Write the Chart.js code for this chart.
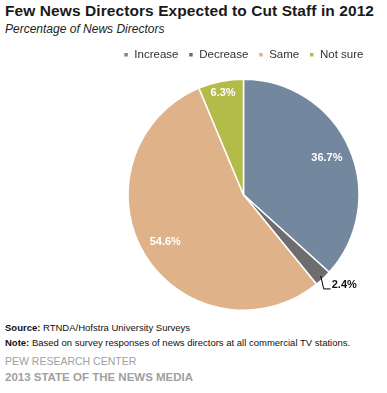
<!DOCTYPE html>
<html><head><meta charset="utf-8">
<script src="https://cdn.jsdelivr.net/npm/chart.js@4/dist/chart.umd.min.js"></script>
<style>
html,body{margin:0;padding:0;background:#fff;width:387px;height:393px;overflow:hidden;font-family:"Liberation Sans",Arial,sans-serif;}
#t{position:absolute;left:5px;top:2px;font-size:15.5px;font-weight:bold;color:#1a1a1a;letter-spacing:0.08px;white-space:nowrap;}
#s{position:absolute;left:5px;top:22px;font-size:12px;font-style:italic;color:#222;white-space:nowrap;}
#c{position:absolute;left:0;top:39px;width:387px;height:275px;}
.f{position:absolute;left:5px;font-size:9.5px;color:#111;white-space:nowrap;}
#p1{position:absolute;left:5px;top:355px;font-size:10.5px;color:#a0a0a0;white-space:nowrap;}
#p2{position:absolute;left:5px;top:371px;font-size:11.5px;font-weight:bold;color:#a0a0a0;white-space:nowrap;}
</style></head><body>
<div id="t">Few News Directors Expected to Cut Staff in 2012</div>
<div id="s">Percentage of News Directors</div>
<div id="c"><canvas id="cv" width="387" height="275"></canvas></div>
<div class="f" style="top:322px"><b>Source:</b> RTNDA/Hofstra University Surveys</div>
<div class="f" style="top:337px"><b>Note:</b> Based on survey responses of news directors at all commercial TV stations.</div>
<div id="p1">PEW RESEARCH CENTER</div>
<div id="p2">2013 STATE OF THE NEWS MEDIA</div>
<script>
const categories = ["Increase", "Decrease", "Same", "Not sure"];
const values = [36.7, 2.4, 54.6, 6.3];
const colors = ["#73889f", "#6d6d6d", "#dfb28a", "#b3bc48"];

const legendGap = {
  id: 'legendGap',
  beforeLayout(chart) {
    const lg = chart.legend;
    if (lg && !lg._gapPatched) {
      lg._gapPatched = true;
      const origFit = lg.fit;
      lg.fit = function () { origFit.call(this); this.height += 8; };
    }
  }
};

const labelPlugin = {
  id: 'sliceLabels',
  afterDatasetsDraw(chart) {
    const ctx = chart.ctx;
    const meta = chart.getDatasetMeta(0);
    ctx.save();
    ctx.font = 'bold 11px "Liberation Sans", Arial, sans-serif';
    meta.data.forEach((arc, i) => {
      const p = arc.getProps(['x','y','startAngle','endAngle','outerRadius'], true);
      const mid = (p.startAngle + p.endAngle) / 2;
      const txt = values[i].toFixed(1) + '%';
      if (values[i] < 4) {
        const sx = p.x + Math.cos(mid) * p.outerRadius * 0.97;
        const sy = p.y + Math.sin(mid) * p.outerRadius * 0.97;
        const ex = sx + 3, ey = sy + 13;
        ctx.strokeStyle = '#000';
        ctx.lineWidth = 1;
        ctx.beginPath();
        ctx.moveTo(sx, sy); ctx.lineTo(ex, ey); ctx.lineTo(ex + 7, ey);
        ctx.stroke();
        ctx.fillStyle = '#111';
        ctx.textAlign = 'left'; ctx.textBaseline = 'middle';
        ctx.fillText(txt, ex + 8, ey - 4);
      } else {
        const f = values[i] < 10 ? 0.9 : 0.79;
        const x = p.x + Math.cos(mid) * p.outerRadius * f;
        const y = p.y + Math.sin(mid) * p.outerRadius * f;
        ctx.fillStyle = '#fff';
        ctx.textAlign = 'center'; ctx.textBaseline = 'middle';
        ctx.fillText(txt, x, y);
      }
    });
    ctx.restore();
  }
};

new Chart(document.getElementById('cv'), {
  type: 'pie',
  data: {
    labels: categories,
    datasets: [{
      data: values,
      backgroundColor: colors,
      borderColor: '#ffffff',
      borderWidth: 1.5
    }]
  },
  options: {
    responsive: false,
    animation: false,
    layout: { padding: { left: 108, right: 8, top: 0, bottom: 3 } },
    plugins: {
      legend: {
        position: 'top',
        labels: {
          boxWidth: 5, boxHeight: 5, padding: 10,
          color: '#333',
          font: { family: '"Liberation Sans", Arial, sans-serif', size: 11.5 }
        }
      },
      tooltip: { enabled: false }
    }
  },
  plugins: [legendGap, labelPlugin]
});
</script>
</body></html>
